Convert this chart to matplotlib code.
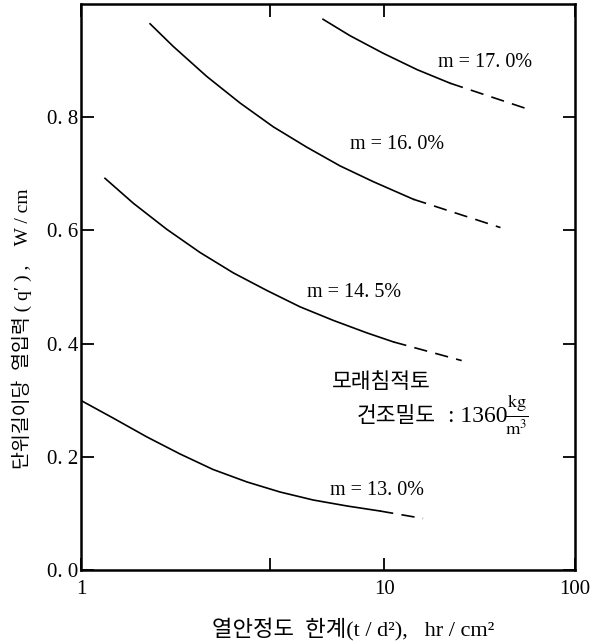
import numpy as np
import matplotlib.pyplot as plt

plt.rcParams['font.family'] = ['Liberation Serif', 'Noto Sans CJK KR']
plt.rcParams['mathtext.fontset'] = 'stix'

# curves: solid part, then dashed extension
x13 = [1.0, 1.275, 1.651, 2.122, 2.727, 3.531, 4.537, 5.831, 7.548, 9.70]
y13 = [0.2995, 0.2686, 0.235, 0.205, 0.1776, 0.1555, 0.1378, 0.1237, 0.1131, 0.1042]
x13d = [9.70, 16.0]
y13d = [0.1042, 0.091]

x145 = [1.20, 1.488, 1.918, 2.47, 3.18, 4.10, 5.28, 6.80, 8.77, 11.19]
y145 = [0.692, 0.648, 0.602, 0.561, 0.525, 0.494, 0.465, 0.441, 0.419, 0.403]
x145d = [11.19, 25.5]
y145d = [0.403, 0.370]

x16 = [1.69, 2.016, 2.60, 3.35, 4.31, 5.56, 7.155, 9.22, 14.24]
y16 = [0.965, 0.925, 0.872, 0.825, 0.783, 0.747, 0.714, 0.686, 0.655]
x16d = [14.24, 40.7]
y16d = [0.655, 0.605]

x17 = [6.29, 7.72, 9.93, 14.9, 22.2]
y17 = [0.973, 0.944, 0.913, 0.884, 0.860]
x17d = [22.2, 54.7]
y17d = [0.860, 0.816]

curve_labels = ["m = 13. 0%", "m = 14. 5%", "m = 16. 0%", "m = 17. 0%"]
xtick_vals = [1, 4.2, 10, 100]
xtick_labels = ["1", "", "10", "100"]
ytick_vals = [0.0, 0.2, 0.4, 0.6, 0.8]
ytick_labels = ["0. 0", "0. 2", "0. 4", "0. 6", "0. 8"]

# the printed axis squeezes the second decade
K = 0.63


def fwd(x):
    lx = np.log10(np.clip(np.asarray(x, dtype=float), 1e-6, None))
    return np.where(lx <= 1, lx, 1 + (lx - 1) * K)


def inv(f):
    f = np.asarray(f, dtype=float)
    return np.where(f <= 1, 10 ** f, 10 ** (1 + (f - 1) / K))


fig = plt.figure(figsize=(5.94, 6.43), dpi=100)
ax = fig.add_axes([81 / 594, 1 - 570 / 643, 494 / 594, 566 / 643])
ax.set_xscale('function', functions=(fwd, inv))

lw = 1.2
dash = (0, (8, 5))
for xs, ys, xd, yd in [(x13, y13, x13d, y13d), (x145, y145, x145d, y145d),
                       (x16, y16, x16d, y16d), (x17, y17, x17d, y17d)]:
    ax.plot(xs, ys, color='k', lw=lw, solid_joinstyle='round')
    ax.plot(xd, yd, color='k', lw=lw, linestyle=dash)

ax.set_xlim(1, 100)
ax.set_ylim(0, 1.0)
ax.set_xticks(xtick_vals)
ax.set_xticklabels(xtick_labels)
ax.set_yticks(ytick_vals)
ax.set_yticklabels(ytick_labels)
ax.xaxis.set_minor_locator(plt.NullLocator())
ax.tick_params(axis='both', direction='in', length=9, width=1.3,
               top=True, right=True, labelsize=15)
ax.tick_params(axis='x', pad=7)
ax.tick_params(axis='y', pad=2)
for s in ax.spines.values():
    s.set_linewidth(1.8)

fs = 14.5
ax.text(0.599, 0.141, curve_labels[0], transform=ax.transAxes, ha='center', va='center', fontsize=fs)
ax.text(0.553, 0.490, curve_labels[1], transform=ax.transAxes, ha='center', va='center', fontsize=fs)
ax.text(0.640, 0.752, curve_labels[2], transform=ax.transAxes, ha='center', va='center', fontsize=fs)
ax.text(0.818, 0.896, curve_labels[3], transform=ax.transAxes, ha='center', va='center', fontsize=fs)

ax.text(0.508, 0.322, "모래침적토", transform=ax.transAxes, ha='left', va='baseline', fontsize=15.5)
ax.text(0.559, 0.262, "건조밀도", transform=ax.transAxes, ha='left', va='baseline', fontsize=15.5)
ax.text(0.743, 0.262, ": 1360", transform=ax.transAxes, ha='left', va='baseline', fontsize=17)
ax.text(0.858, 0.274, r"$\frac{\mathrm{kg}}{\mathrm{m}^3}$", transform=ax.transAxes,
        ha='left', va='center', fontsize=19)

ax.set_xlabel("열안정도  한계(t / d²),   hr / cm²", fontsize=16, va='center')
ax.xaxis.set_label_coords(0.55, -0.104)
ax.set_ylabel("단위길이당  열입력 ( q′ ) ,    W / cm", fontsize=14, va='center')
ax.yaxis.set_label_coords(-0.119, 0.426)

fig.savefig("out.png", dpi=100)
